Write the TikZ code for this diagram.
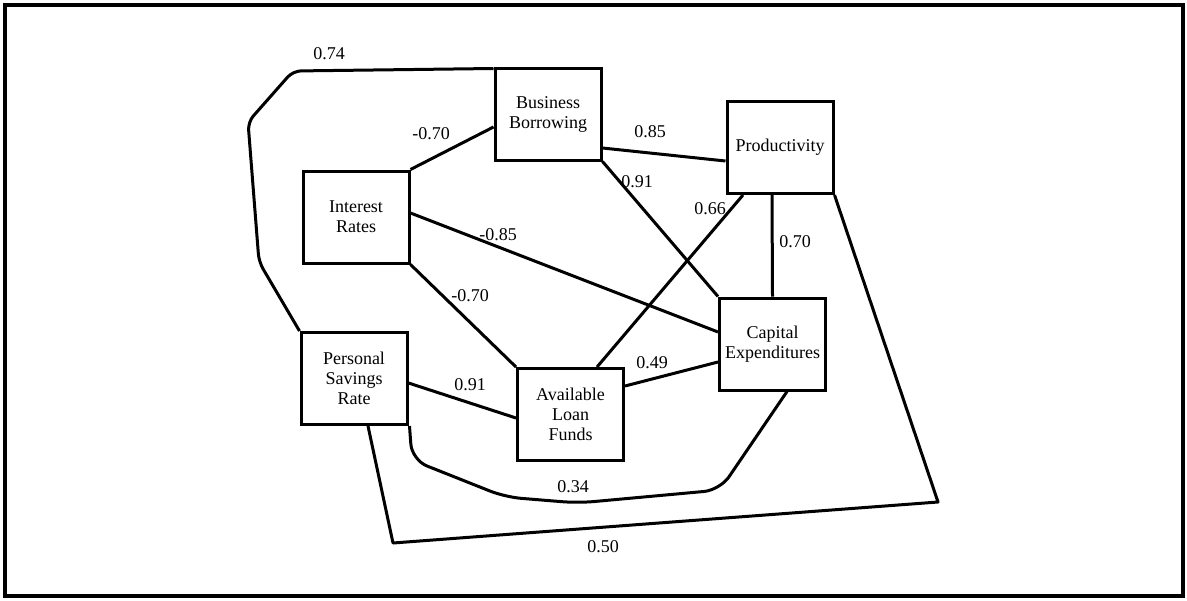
\documentclass[tikz,border=0pt]{standalone}
\usepackage{fontspec}
\setmainfont{Liberation Serif}
\usetikzlibrary{calc}
\begin{document}
\begin{tikzpicture}[x=0.5pt,y=-0.5pt,
  box/.style={draw,line width=1.5pt,minimum width=53pt,minimum height=46pt,
    inner sep=0pt,align=center,font=\fontsize{9}{10}\selectfont},
  link/.style={line width=1.5pt,line join=round},
  wt/.style={font=\fontsize{9}{10}\selectfont,inner sep=0pt}]
\useasboundingbox (0,0) rectangle (1187,600);
% outer frame
\draw[line width=2pt] (5,5) rectangle (1183,596);

% variables
\node[box] (bb) at (548,114)    {Business\\Borrowing};
\node[box] (ir) at (356,217)    {Interest\\Rates};
\node[box] (pr) at (780,147.5)  {Productivity};
\node[box] (ce) at (772.5,344)  {Capital\\Expenditures};
\node[box] (ps) at (354,378.5)  {Personal\\Savings\\Rate};
\node[box] (al) at (570.5,414.5){Available\\Loan\\Funds};

% correlations
\draw[link] (ir.north east) -- ($(bb.west)+(0,13)$);
\draw[link] ($(ir.east)+(0,-4)$) -- ($(ce.west)+(0,-12)$);
\draw[link] (ir.south east) -- (al.north west);
\draw[link] ($(ps.east)+(0,4.5)$) -- ($(al.west)+(0,3.5)$);
\draw[link] ($(al.east)+(0,-28.5)$) -- ($(ce.west)+(0,18)$);
\draw[link] ($(al.north)+(26.5,0)$) -- ($(pr.south)+(-37,0)$);
\draw[link] (bb.south east) -- (ce.north west);
\draw[link] ($(bb.east)+(0,34)$) -- ($(pr.west)+(0,13.5)$);
\draw[link] ($(pr.south)+(-8,0)$) -- (ce.north);
\draw[link] (pr.south east) -- (938,502) -- (393,543) -- ($(ps.south)+(14,0)$);
\draw[link,rounded corners=8pt] ($(ps.south east)+(1,0)$) -- (412,460) -- (505,497)
  -- (578,503) -- (720,490) -- ($(ce.south)+(14.5,0)$);
\draw[link,rounded corners=4pt] (ps.north west) -- (259,262) -- (248,122) -- (293,71)
  -- ($(bb.north west)+(0,2)$);

% coefficients
\node[wt] (w1)  at (329,54)  {0.74};
\node[wt] (w2)  at (431,134) {-0.70};
\node[wt] (w3)  at (650,132) {0.85};
\node[wt] (w4)  at (637,182) {0.91};
\node[wt] (w5)  at (710,209) {0.66};
\node[wt] (w6)  at (795,242) {0.70};
\node[wt] (w7)  at (498,235) {-0.85};
\node[wt] (w8)  at (470,296) {-0.70};
\node[wt] (w9)  at (470,385) {0.91};
\node[wt] (w10) at (652,363) {0.49};
\node[wt] (w11) at (573,487) {0.34};
\node[wt] (w12) at (603,547) {0.50};
\end{tikzpicture}
\end{document}
